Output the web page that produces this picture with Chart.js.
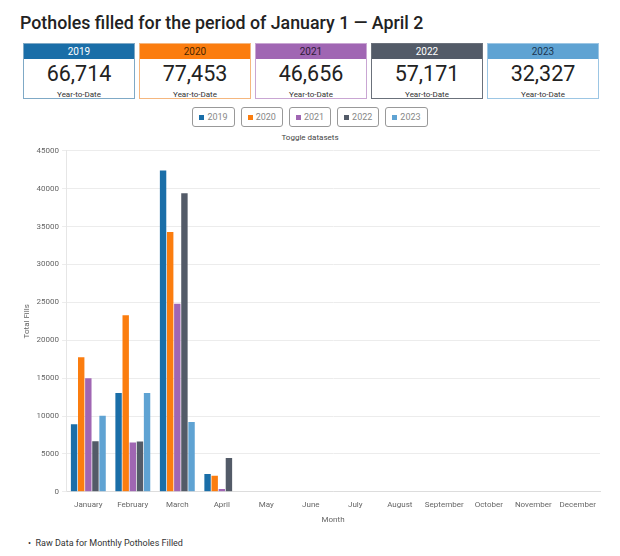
<!DOCTYPE html>
<html>
<head>
<meta charset="utf-8">
<script src="https://cdn.jsdelivr.net/npm/chart.js@4"></script>
<style>
  body { margin: 0; background: #fff; font-family: Roboto, sans-serif; width: 620px; height: 556px; position: relative; overflow: hidden; }
  h1 { position: absolute; left: 20px; top: 12px; margin: 0; font-size: 17.8px; font-weight: 500; color: #222; }
  .boxes { position: absolute; left: 23px; top: 43px; display: flex; gap: 4px; }
  .box { width: 110px; height: 54px; border: 1px solid; text-align: center; }
  .box .hd { height: 15px; line-height: 15px; font-size: 10px; }
  .box .num { font-size: 21.5px; line-height: 24px; margin-top: 3px; color: #222; }
  .box .lbl { font-size: 8px; color: #333; line-height: 12px; margin-top: 3px; }
  .legend { position: absolute; top: 107px; left: 0; width: 620px; display: flex; justify-content: center; gap: 6px; }
  .legend button { height: 20px; padding: 0 6px; border: 1px solid #999; border-radius: 3px; background: #fff; font: 9px Roboto, sans-serif; color: #888; display: flex; align-items: center; gap: 3px; }
  .legend button i { display: inline-block; width: 5px; height: 5px; }
  .toggle { position: absolute; top: 133px; left: 0; width: 620px; text-align: center; font-size: 8px; color: #444; }
  .chart-wrap { position: absolute; left: 18px; top: 143px; width: 584px; height: 382px; }
  .note { position: absolute; left: 28px; top: 538px; margin: 0; font-size: 9px; color: #333; }
</style>
</head>
<body>
<h1>Potholes filled for the period of January 1 — April 2</h1>
<div class="boxes" id="boxes"></div>
<div class="legend" id="legend"></div>
<div class="toggle">Toggle datasets</div>
<div class="chart-wrap"><canvas id="potholes"></canvas></div>
<div class="note">•&nbsp; Raw Data for Monthly Potholes Filled</div>
<script>
const months = ['January', 'February', 'March', 'April', 'May', 'June', 'July', 'August', 'September', 'October', 'November', 'December'];
const years = ['2019', '2020', '2021', '2022', '2023'];
const ytdTotals = ['66,714', '77,453', '46,656', '57,171', '32,327'];
const fills2019 = [8900, 13050, 42400, 2364];
const fills2020 = [17750, 23300, 34300, 2103];
const fills2021 = [15000, 6500, 24800, 356];
const fills2022 = [6680, 6630, 39400, 4461];
const fills2023 = [10050, 13050, 9227];

const colors = ['#1a6ea8', '#fb7d0f', '#a066b3', '#535b68', '#5fa3d3'];
const headText = ['#fff', '#4a2600', '#2e1a36', '#fff', '#1c3550'];
const boxBorders = ['#7fa9c6', '#f5b77f', '#c9a6d3', '#6b717b', '#9cc6e4'];
const series = [fills2019, fills2020, fills2021, fills2022, fills2023];

const boxes = document.getElementById('boxes');
const legend = document.getElementById('legend');
years.forEach((y, i) => {
  boxes.insertAdjacentHTML('beforeend',
    '<div class="box" style="border-color:' + boxBorders[i] + '">' +
    '<div class="hd" style="background:' + colors[i] + ';color:' + headText[i] + '">' + y + '</div>' +
    '<div class="num">' + ytdTotals[i] + '</div><div class="lbl">Year-to-Date</div></div>');
  legend.insertAdjacentHTML('beforeend', '<button><i style="background:' + colors[i] + '"></i>' + y + '</button>');
});

new Chart(document.getElementById('potholes'), {
  type: 'bar',
  data: {
    labels: months,
    datasets: years.map((y, i) => ({
      label: y,
      data: series[i],
      backgroundColor: colors[i],
      borderWidth: 0
    }))
  },
  options: {
    responsive: true,
    maintainAspectRatio: false,
    animation: false,
    layout: { padding: { top: 0, right: 2, bottom: 0, left: 0 } },
    plugins: {
      legend: { display: false },
      tooltip: { enabled: false }
    },
    scales: {
      x: {
        grid: { display: false },
        border: { color: '#ddd' },
        ticks: { color: '#666', font: { family: 'Roboto', size: 8 }, maxRotation: 0, autoSkip: false, padding: 0 },
        title: { display: true, text: 'Month', color: '#666', font: { family: 'Roboto', size: 8 }, padding: { top: 6, bottom: 0 } }
      },
      y: {
        min: 0,
        max: 45000,
        ticks: {
          stepSize: 5000, color: '#666', font: { family: 'Roboto', size: 8 }, padding: 3,
          callback: function (value) { return String(value); }
        },
        grid: { color: '#ececec', tickLength: 4 },
        border: { color: '#e6e6e6' },
        title: { display: true, text: 'Total Fills', color: '#666', font: { family: 'Roboto', size: 8 }, padding: { bottom: 2 } }
      }
    }
  }
});
</script>
</body>
</html>
